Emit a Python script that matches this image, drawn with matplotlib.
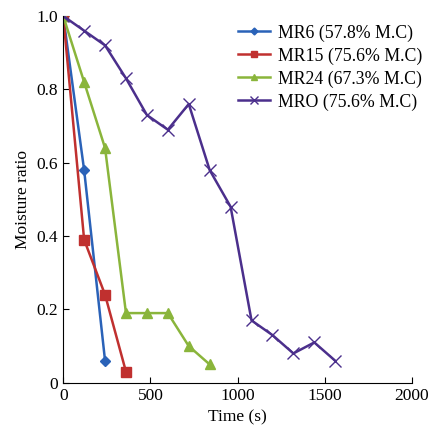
import matplotlib.pyplot as plt

# Data
t_mr6 = [0, 120, 240]
mr6 = [1.0, 0.58, 0.06]

t_mr15 = [0, 120, 240, 360]
mr15 = [1.0, 0.39, 0.24, 0.03]

t_mr24 = [0, 120, 240, 360, 480, 600, 720, 840]
mr24 = [1.0, 0.82, 0.64, 0.19, 0.19, 0.19, 0.10, 0.05]

t_mro = [0, 120, 240, 360, 480, 600, 720, 840, 960, 1080, 1200, 1320, 1440, 1560]
mro = [1.0, 0.96, 0.92, 0.83, 0.73, 0.69, 0.76, 0.58, 0.48, 0.17, 0.13, 0.08, 0.11, 0.06]

plt.rcParams['font.family'] = ['Liberation Serif', 'DejaVu Serif']

fig = plt.figure(figsize=(4.3, 4.33), dpi=100)
ax = fig.add_axes([0.147, 0.116, 0.811, 0.847])

ax.plot(t_mr6, mr6, color='#2a62b8', marker='D', markersize=5, lw=1.8, label='MR6 (57.8% M.C)')
ax.plot(t_mr15, mr15, color='#c0302f', marker='s', markersize=7, lw=1.8, label='MR15 (75.6% M.C)')
ax.plot(t_mr24, mr24, color='#8ab53b', marker='^', markersize=7, lw=1.8, label='MR24 (67.3% M.C)')
ax.plot(t_mro, mro, color='#4b2f8c', marker='x', markersize=9, mew=1.0, lw=1.8, label='MRO (75.6% M.C)')

ax.set_xlim(0, 2000)
ax.set_ylim(0, 1.0)
ax.set_xticks([0, 500, 1000, 1500, 2000])
ax.set_yticks([0, 0.2, 0.4, 0.6, 0.8, 1.0])
ax.set_yticklabels(['0', '0.2', '0.4', '0.6', '0.8', '1.0'])
ax.set_xlabel('Time (s)', fontsize=12.5)
ax.set_ylabel('Moisture ratio', fontsize=12.5)
ax.tick_params(direction='in', labelsize=12.5, length=4)
ax.spines['top'].set_visible(False)
ax.spines['right'].set_visible(False)

ax.legend(loc='upper left', bbox_to_anchor=(0.50, 0.977), frameon=False, fontsize=12.8,
          handlelength=1.8, handletextpad=0.45, borderpad=0, borderaxespad=0,
          labelspacing=0.32, markerscale=0.7)

fig.savefig('out.png', dpi=100)
